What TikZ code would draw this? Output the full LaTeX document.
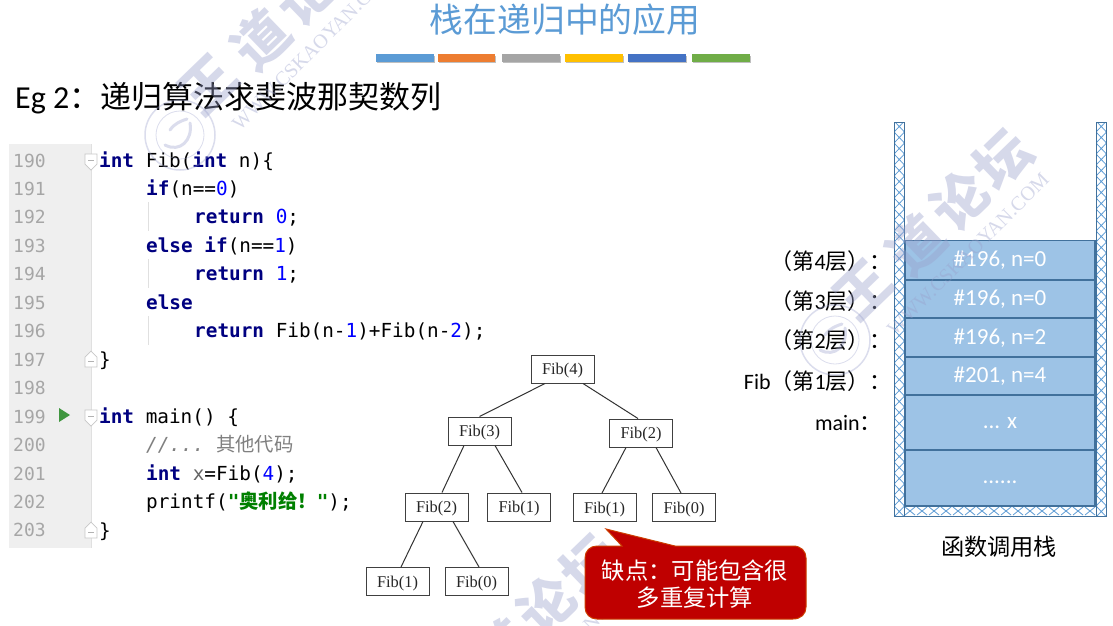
\documentclass[tikz,border=0pt]{standalone}
\usepackage{fontspec}
\setmainfont{Carlito}
\setmonofont{DejaVu Sans Mono}
\newfontfamily\zh{Noto Sans CJK SC}
\newfontfamily\tms{Liberation Serif}
\usetikzlibrary{calc}
\definecolor{kw}{HTML}{000080}
\definecolor{num}{HTML}{0000FF}
\definecolor{strg}{HTML}{008000}
\definecolor{cmt}{HTML}{808080}
\definecolor{gut}{HTML}{EFEFEF}
\definecolor{lnum}{HTML}{A6A6A6}
\definecolor{wallc}{HTML}{5B9BD5}
\definecolor{wallb}{HTML}{41719C}
\definecolor{cellf}{HTML}{9DC3E6}
\definecolor{wmc}{HTML}{9AA0CC}
\newcommand{\kw}[1]{\textcolor{kw}{\bfseries #1}}
\newcommand{\nm}[1]{\textcolor{num}{#1}}
\newcommand{\zhs}[1]{{\zh #1}}
\newcommand{\lowtxt}[2]{\raisebox{#1}[0pt][0pt]{#2}}
\tikzset{
  fibbox/.style={draw=black!75,line width=1pt,minimum width=63pt,minimum height=28pt,inner sep=0pt,text height=13pt,text depth=2pt,font=\tms\fontsize{16.4}{18}\selectfont,text=black!85},
  fibedge/.style={draw=black!80,line width=1pt},
  code/.style={anchor=base west,inner sep=0pt,font=\ttfamily\fontsize{19.35}{22}\selectfont},
  lineno/.style={anchor=base west,inner sep=0pt,font=\ttfamily\fontsize{18}{22}\selectfont,text=lnum},
  cell/.style={draw=wallb,line width=1.4pt,fill=cellf,minimum width=190pt,inner sep=0pt,text=white,font=\fontsize{23}{26}\selectfont},
  lab/.style={anchor=east,inner sep=0pt,font=\fontsize{22}{26}\selectfont,text=black},
  wmzh/.style={rotate=44,inner sep=0pt,text=wmc,opacity=.4,font=\zh\bfseries\fontsize{55}{58}\selectfont},
  wmen/.style={rotate=45,inner sep=0pt,text=wmc,opacity=.4,font=\tms\fontsize{20}{22}\selectfont},
  foldm/.style={draw=black!22,fill=white,line width=.7pt},
}
\newcommand{\wmark}[3]{% prefix, dx, dy
  \begin{scope}[shift={(#2,#3)}]
    \node[wmzh] (#1a) at (863,290) {王};
    \node[wmzh] (#1b) at (916,244) {道};
    \node[wmzh] (#1c) at (960,200) {论};
    \node[wmzh] (#1d) at (1003,160) {坛};
    \node[wmen] (#1e) at (968,254) {WWW.CSKAOYAN.COM};
    \draw[wmc,opacity=.35,line width=1.5pt] (835,340) circle (35);
    \draw[wmc,opacity=.35,line width=.8pt] (835,340) circle (24);
    \draw[wmc,opacity=.35,line width=3pt,line cap=round] (820,350) .. controls (835,358) and (848,345) .. (845,328);
    \draw[wmc,opacity=.35,line width=3pt,line cap=round] (825,335) .. controls (830,328) and (836,326) .. (842,324);
  \end{scope}
}
\begin{document}
\begin{tikzpicture}[x=1pt,y=-1pt]
\useasboundingbox (0,0) rectangle (1113,625);
\clip (0,0) rectangle (1113,625);
\fill[white] (0,0) rectangle (1113,625);

% title
\node[inner sep=0pt,text=wallc,font=\zh\fontsize{33.8}{36}\selectfont] (title) at (565,20) {栈在递归中的应用};
\foreach \xa/\xb/\c [count=\i] in {376/434/5B9BD5,438/495/ED7D31,502/560/A5A5A5,565/623/FFC000,628/686/4472C4,692/750/70AD47}{
  \definecolor{barc}{HTML}{\c}
  \fill[black!25] (\xa+1,56) rectangle (\xb+1,63);
  \fill[barc] (\xa,54) rectangle (\xb,61.5);
}
\node[anchor=base west,inner sep=0pt,font=\fontsize{32}{34}\selectfont] (eg) at (15,108) {Eg 2{\zh\fontsize{31}{34}\selectfont ：递归算法求斐波那契数列}};

% code gutter
\fill[gut] (9,144) rectangle (91,548);
\draw[black!12,line width=1pt] (91,144) -- (91,548);
\foreach \n [count=\i from 0] in {190,...,203}{
  \node[lineno] (ln\n) at (13,{167+28.46*\i}) {\n};
}
\draw[black!12,line width=1pt] (148,202) -- (148,231);
\draw[black!12,line width=1pt] (148,259) -- (148,288);
\draw[black!12,line width=1pt] (148,316) -- (148,345);
\fill[green!45!black!75] (59,408) -- (70,415) -- (59,422) -- cycle;
% fold markers
\foreach \y in {154,410}{
  \draw[foldm] (85,\y) -- (97,\y) -- (97,\y+10) -- (91,\y+16) -- (85,\y+10) -- cycle;
  \draw[black!30,line width=.7pt] (88,\y+6) -- (94,\y+6);
}
\foreach \y in {367,538}{
  \draw[foldm] (85,\y) -- (97,\y) -- (97,\y-10) -- (91,\y-16) -- (85,\y-10) -- cycle;
  \draw[black!30,line width=.7pt] (88,\y-6) -- (94,\y-6);
}
% code
\node[code] (c0) at (99,167) {\kw{int} Fib(\kw{int} n)\{};
\node[code] (c1) at (146,195.5) {\kw{if}(n==\nm{0})};
\node[code] (c2) at (194,223.9) {\kw{return} \nm{0};};
\node[code] (c3) at (146,252.4) {\kw{else if}(n==\nm{1})};
\node[code] (c4) at (194,280.8) {\kw{return} \nm{1};};
\node[code] (c5) at (146,309.3) {\kw{else}};
\node[code] (c6) at (194,337.8) {\kw{return} Fib(n-\nm{1})+Fib(n-\nm{2});};
\node[code] (c7) at (99,366.2) {\}};
\node[code] (c9) at (99,423.1) {\kw{int} main() \{};
\node[code] (c10) at (146,451.6) {\textcolor{cmt}{\itshape //...} \textcolor{cmt}{\zhs{其他代码}}};
\node[code] (c11) at (146,480) {\kw{int} \textcolor{black!60}{x}=Fib(\nm{4});};
\node[code] (c12) at (146,508.5) {printf(\textcolor{strg}{\bfseries "\zhs{奥利给！}"});};
\node[code] (c13) at (99,537) {\}};

% tree
\node[fibbox] (f4) at (562.5,369) {Fib(4)};
\node[fibbox] (f3) at (479.5,431) {Fib(3)};
\node[fibbox] (f2r) at (641,433) {Fib(2)};
\node[fibbox] (f2l) at (436.5,507) {Fib(2)};
\node[fibbox] (f1m) at (519,507) {Fib(1)};
\node[fibbox] (f1r) at (604.5,507.5) {Fib(1)};
\node[fibbox] (f0r) at (684,507.5) {Fib(0)};
\node[fibbox] (f1b) at (397.5,581.5) {Fib(1)};
\node[fibbox] (f0b) at (476.5,581.5) {Fib(0)};
\draw[fibedge] ([xshift=-17.5pt]f4.south) -- (f3.north);
\draw[fibedge] ([xshift=20.5pt]f4.south) -- ([xshift=-3pt]f2r.north);
\draw[fibedge] ([xshift=-15.5pt]f3.south) -- ([xshift=5.5pt]f2l.north);
\draw[fibedge] ([xshift=15.5pt]f3.south) -- ([xshift=3pt]f1m.north);
\draw[fibedge] ([xshift=-15pt]f2r.south) -- ([xshift=-2.5pt]f1r.north);
\draw[fibedge] ([xshift=15pt]f2r.south) -- ([xshift=-3pt]f0r.north);
\draw[fibedge] ([xshift=-13.5pt]f2l.south) -- ([xshift=3.5pt]f1b.north);
\draw[fibedge] ([xshift=16.5pt]f2l.south) -- ([xshift=2.5pt]f0b.north);

% stack walls
\begin{scope}
  \clip (894,122) rectangle (904.5,516);
  \foreach \y in {110,121,...,520}{
    \draw[wallc,line width=.8pt] (894,\y) -- (904.5,\y+11);
    \draw[wallc,line width=.8pt] (904.5,\y) -- (894,\y+11);
  }
\end{scope}
\begin{scope}
  \clip (1096,122) rectangle (1106.5,516);
  \foreach \y in {110,121,...,520}{
    \draw[wallc,line width=.8pt] (1096,\y) -- (1106.5,\y+11);
    \draw[wallc,line width=.8pt] (1106.5,\y) -- (1096,\y+11);
  }
\end{scope}
\begin{scope}
  \clip (904.5,506) rectangle (1096,516);
  \foreach \x in {904,916,...,1096}{
    \draw[wallc,line width=.8pt] (\x+1,507) -- (\x+11,515);
    \draw[wallc,line width=.8pt] (\x+11,507) -- (\x+1,515);
  }
\end{scope}
\draw[wallb,line width=1pt] (894,122) rectangle (904.5,516);
\draw[wallb,line width=1pt] (1096,122) rectangle (1106.5,516);
\draw[wallb,line width=1pt] (904.5,506) rectangle (1096,516);

% stack cells
\node[cell,minimum height=39pt] (s4) at (1000,260) {\lowtxt{-6.5pt}{\#196, n=0}};
\node[cell,minimum height=38pt] (s3) at (1000,299) {\lowtxt{-6.5pt}{\#196, n=0}};
\node[cell,minimum height=38pt] (s2) at (1000,337.5) {\lowtxt{-6.5pt}{\#196, n=2}};
\node[cell,minimum height=38pt] (s1) at (1000,376) {\lowtxt{-6.5pt}{\#201, n=4}};
\node[cell,minimum height=55pt] (sm) at (1000,422.5) {\lowtxt{-5.5pt}{... x}};
\node[cell,minimum height=56pt] (sb) at (1000,478) {\lowtxt{-5pt}{......}};

% stack labels
\node[lab] (l4) at (892,261) {\zhs{（第}4\zhs{层）：}};
\node[lab] (l3) at (892,301) {\zhs{（第}3\zhs{层）：}};
\node[lab] (l2) at (892,340) {\zhs{（第}2\zhs{层）：}};
\node[lab] (l1) at (892,381) {Fib\zhs{（第}1\zhs{层）：}};
\node[lab] (lm) at (882,423) {main\zhs{：}};
\node[inner sep=0pt,font=\zh\fontsize{23.2}{26}\selectfont] (cap) at (999,547) {函数调用栈};

% watermarks
\wmark{wa}{-655}{-205}
\wmark{wb}{0}{0}
\wmark{wc}{-413}{405}

% callout
\draw[draw=orange!60!red!80!black,line width=1pt,fill=red!75!black]
  (606,529) -- (675,546) -- (793,546)
  .. controls (801,546) and (806,551) .. (806,558) -- (806,607)
  .. controls (806,614) and (801,619) .. (793,619) -- (597,619)
  .. controls (590,619) and (585,614) .. (585,607) -- (585,558)
  .. controls (585,551) and (590,546) .. (597,546) -- (622,546) -- cycle;
\node[inner sep=0pt,align=center,text=white,font=\zh\fontsize{23.3}{27.5}\selectfont] (note) at (695,584) {缺点：可能包含很\\多重复计算};
\end{tikzpicture}
\end{document}
